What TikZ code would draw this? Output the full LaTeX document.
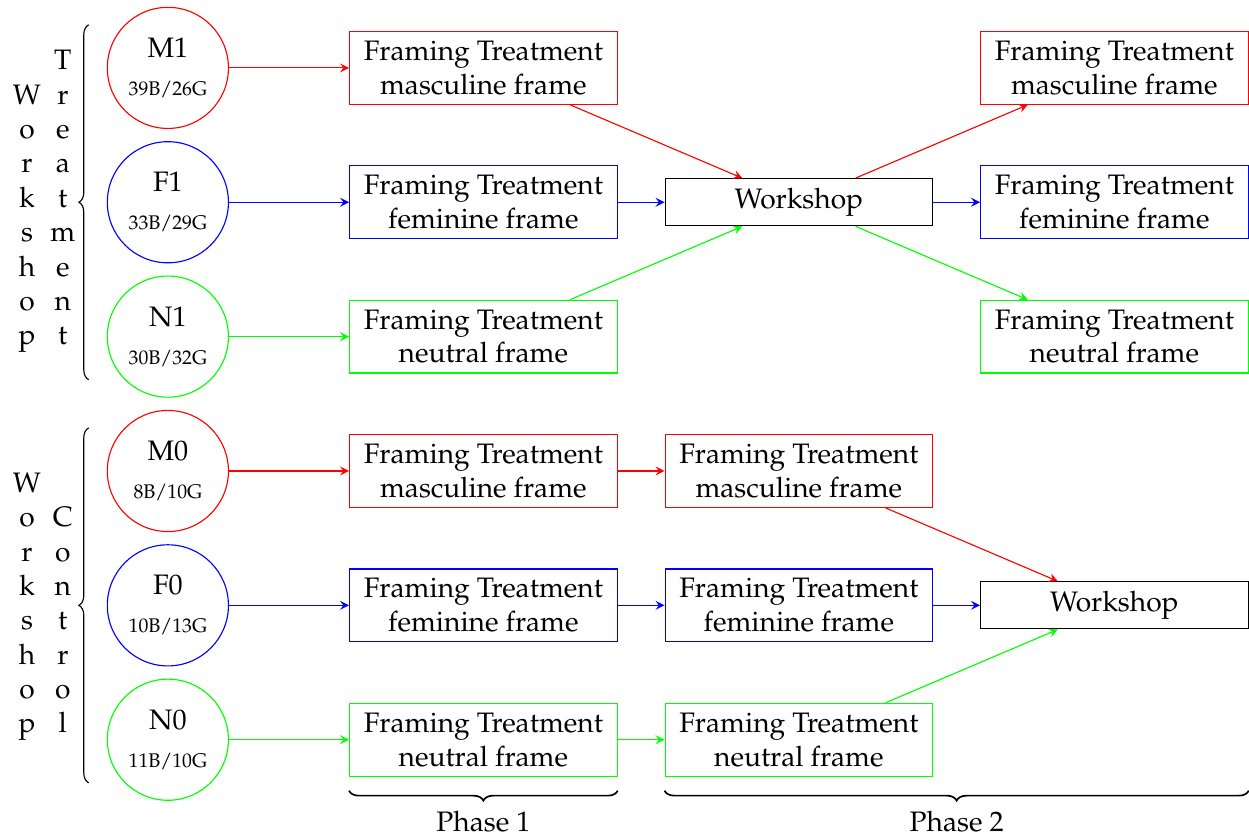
\documentclass[tikz,border=0pt]{standalone}
\usepackage[T1]{fontenc}
\usepackage{mathpazo}
\usepackage{tikz}
\usetikzlibrary{positioning}
\usetikzlibrary{decorations.pathreplacing}

\begin{document}
\begin{tikzpicture}[on grid, node distance=47.7pt and 112pt]
	\tikzstyle{group} = [circle, draw, minimum size=43pt, inner sep=0pt, align=center]
	\tikzstyle{frame} = [rectangle, draw, minimum width=95pt, minimum height=25.6pt, align=center]
	\tikzstyle{work} = [rectangle, draw, minimum width=95pt, minimum height=16.7pt]
	\tikzstyle{arr} = [-stealth]
	\tikzstyle{sidebrace} = [decorate, decoration={brace, amplitude=3.5pt}, thin]
	\tikzstyle{phasebrace} = [decorate, decoration={brace, mirror, amplitude=3.5pt}, semithick]

	\useasboundingbox (-59.6pt, 24.1pt) rectangle (383.8pt, -272.7pt);

	% groups
	\node (m1) [group, draw=red] at (0,0) {M1\\[1.5pt]{\scriptsize 39B/26G}};
	\node (f1) [group, draw=blue, below=of m1] {F1\\[1.5pt]{\scriptsize 33B/29G}};
	\node (n1) [group, draw=green, below=of f1] {N1\\[1.5pt]{\scriptsize 30B/32G}};
	\node (m0) [group, draw=red, below=of n1] {M0\\[1.5pt]{\scriptsize 8B/10G}};
	\node (f0) [group, draw=blue, below=of m0] {F0\\[1.5pt]{\scriptsize 10B/13G}};
	\node (n0) [group, draw=green, below=of f0] {N0\\[1.5pt]{\scriptsize 11B/10G}};

	% phase 1
	\node (fm1) [frame, draw=red, right=of m1] {Framing Treatment\\masculine frame};
	\node (ff1) [frame, draw=blue, right=of f1] {Framing Treatment\\feminine frame};
	\node (fn1) [frame, draw=green, right=of n1] {Framing Treatment\\neutral frame};
	\node (fm0) [frame, draw=red, right=of m0] {Framing Treatment\\masculine frame};
	\node (ff0) [frame, draw=blue, right=of f0] {Framing Treatment\\feminine frame};
	\node (fn0) [frame, draw=green, right=of n0] {Framing Treatment\\neutral frame};

	% phase 2, treatment
	\node (w1) [work, right=of ff1] {Workshop};
	\node (gm1) [frame, draw=red, above right=of w1] {Framing Treatment\\masculine frame};
	\node (gf1) [frame, draw=blue, right=of w1] {Framing Treatment\\feminine frame};
	\node (gn1) [frame, draw=green, below right=of w1] {Framing Treatment\\neutral frame};

	% phase 2, control
	\node (gm0) [frame, draw=red, right=of fm0] {Framing Treatment\\masculine frame};
	\node (gf0) [frame, draw=blue, right=of ff0] {Framing Treatment\\feminine frame};
	\node (gn0) [frame, draw=green, right=of fn0] {Framing Treatment\\neutral frame};
	\node (w0) [work, right=of gf0] {Workshop};

	\draw (m1) edge [arr, red] (fm1);
	\draw (f1) edge [arr, blue] (ff1);
	\draw (n1) edge [arr, green] (fn1);
	\draw (fm1) edge [arr, red] (w1);
	\draw (ff1) edge [arr, blue] (w1);
	\draw (fn1) edge [arr, green] (w1);
	\draw (w1) edge [arr, red] (gm1);
	\draw (w1) edge [arr, blue] (gf1);
	\draw (w1) edge [arr, green] (gn1);

	\draw (m0) edge [arr, red] (fm0);
	\draw (f0) edge [arr, blue] (ff0);
	\draw (n0) edge [arr, green] (fn0);
	\draw (fm0) edge [arr, red] (gm0);
	\draw (ff0) edge [arr, blue] (gf0);
	\draw (fn0) edge [arr, green] (gn0);
	\draw (gm0) edge [arr, red] (w0);
	\draw (gf0) edge [arr, blue] (w0);
	\draw (gn0) edge [arr, green] (w0);

	% side labels
	\foreach \ch [count=\i from 0] in {W,o,r,k,s,h,o,p}
		\node (wt\i) [anchor=base] at (-50pt, -12.9pt-\i*12.2pt) {\ch};
	\foreach \ch [count=\i from 0] in {T,r,e,a,t,m,e,n,t}
		\node (tr\i) [anchor=base] at (-37.3pt, -0.7pt-\i*12.2pt) {\ch};
	\foreach \ch [count=\i from 0] in {W,o,r,k,s,h,o,p}
		\node (wc\i) [anchor=base] at (-50pt, -150.7pt-\i*12.2pt) {\ch};
	\foreach \ch [count=\i from 0] in {C,o,n,t,r,o,l}
		\node (co\i) [anchor=base] at (-37.3pt, -162.9pt-\i*12.2pt) {\ch};

	\draw [sidebrace] ([xshift=-6.4pt, yshift=-63pt]f1.west) -- ([xshift=-6.4pt, yshift=63pt]f1.west);
	\draw [sidebrace] ([xshift=-6.4pt, yshift=-63pt]f0.west) -- ([xshift=-6.4pt, yshift=63pt]f0.west);

	% phases
	\draw [phasebrace] ([yshift=-5pt]fn0.south west) -- ([yshift=-5pt]fn0.south east)
		node (p1) [midway, anchor=north, yshift=-3.5pt] {Phase 1};
	\draw [phasebrace] ([yshift=-5pt]gn0.south west) -- ([yshift=-5pt]gn0.south west -| w0.east)
		node (p2) [midway, anchor=north, yshift=-3.5pt] {Phase 2};
\end{tikzpicture}
\end{document}
